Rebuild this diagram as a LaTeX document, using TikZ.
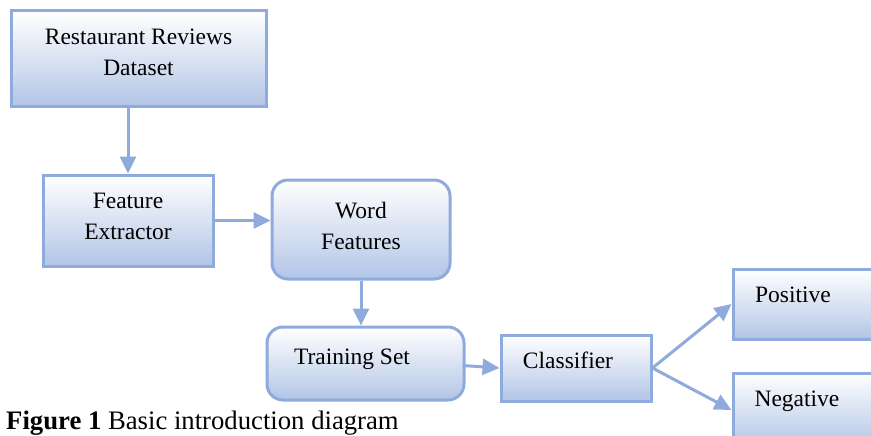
\documentclass[tikz,border=0pt]{standalone}
\usepackage{fontspec}
\setmainfont{Liberation Serif}
\usetikzlibrary{arrows.meta}
\definecolor{edgeblue}{RGB}{143,170,220}
\definecolor{fillblue}{RGB}{178,197,230}
\tikzset{
  box/.style={draw=edgeblue, line width=3pt, top color=white, bottom color=fillblue,
    inner sep=0pt},
  rbox/.style={box, rounded corners=16pt},
  lbl/.style={inner sep=0pt, align=center, font=\fontsize{23.5}{31}\selectfont},
  conn/.style={draw=edgeblue, line width=3pt, -{Triangle[length=17pt,width=16pt]}},
}
\begin{document}
\begin{tikzpicture}[x=1pt,y=-1pt]
\useasboundingbox (0,0) rectangle (871,436);
\clip (0,0) rectangle (871,436);
\node[box, minimum width=255pt, minimum height=96pt] (rr) at (138.5,59) {};
\node[lbl] (rrt) at (138.5,52.5) {Restaurant Reviews\\Dataset};
\node[box, minimum width=170pt, minimum height=91pt] (fe) at (128,220.5) {};
\node[lbl] (fet) at (128,216.5) {Feature\\Extractor};
\node[rbox, minimum width=178pt, minimum height=99pt] (wf) at (361,229.5) {};
\node[lbl] (wft) at (361,226) {Word\\Features};
\node[rbox, minimum width=197pt, minimum height=73pt] (ts) at (365.5,363.5) {};
\node[lbl, anchor=base] (tst) at (352,364) {Training Set};
\node[box, minimum width=150pt, minimum height=66pt] (cl) at (576,368) {};
\node[lbl, anchor=base] (clt) at (568,368) {Classifier};
\node[box, minimum width=160pt, minimum height=70pt] (pos) at (813,304) {};
\node[lbl, anchor=base] (post) at (793,302) {Positive};
\node[box, minimum width=160pt, minimum height=74pt] (neg) at (813,410) {};
\node[lbl, anchor=base] (negt) at (797,406) {Negative};
\node[anchor=base west, inner sep=0pt, font=\fontsize{26.7}{30}\selectfont] (cap) at (6,429) {\textbf{Figure 1} Basic introduction diagram};
\draw[conn] (fe.north |- rr.south) -- (fe.north);
\draw[conn] (fe.east) -- (fe.east -| wf.west);
\draw[conn] (wf.south) -- (wf.south |- ts.north);
\draw[conn] ([xshift=-3pt,yshift=-2pt]ts.east) -- (cl.west);
\draw[conn] (cl.east) -- (pos.west);
\draw[conn] (cl.east) -- (neg.west);
\end{tikzpicture}
\end{document}
